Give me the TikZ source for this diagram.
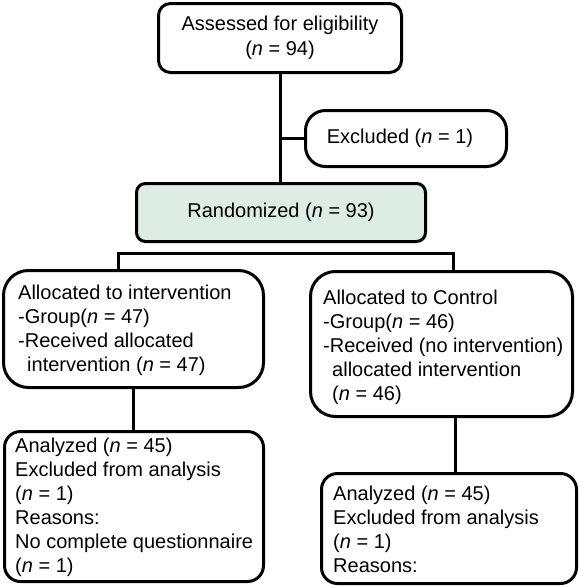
\documentclass[tikz,border=0pt]{standalone}
\usepackage{fontspec}
\setmainfont{Liberation Sans}
\definecolor{randfill}{RGB}{221,237,228}
\begin{document}
\begin{tikzpicture}[x=1pt,y=-1pt,
  every node/.style={font=\fontsize{20}{24}\selectfont},
  box/.style={draw, line width=3pt, inner sep=0pt, rounded corners=#1},
  txt/.style={inner sep=0pt, anchor=north west, align=left},
  conn/.style={line width=3pt}]
\useasboundingbox (0,0) rectangle (580,587);
% boxes
\node[box=12pt, minimum width=243pt, minimum height=69pt, align=center,
      font=\fontsize{20}{25}\selectfont] (top) at (280,38)
  {Assessed for eligibility\\(\textit{n} = 94)};
\node[box=20pt, minimum width=201pt, minimum height=56pt] (excl) at (406,138.5)
  {\hspace*{-12pt}Excluded (\textit{n} = 1)};
\node[box=9pt, fill=randfill, minimum width=289pt, minimum height=58pt] (rand) at (281,212.5)
  {Randomized (\textit{n} = 93)};
\node[box=25pt, minimum width=260pt, minimum height=117pt] (alloc1) at (133.5,329) {};
\node[box=25pt, minimum width=262pt, minimum height=145pt] (alloc2) at (441.5,344) {};
\node[box=16pt, minimum width=259pt, minimum height=150pt] (ana1) at (134,506.5) {};
\node[box=16pt, minimum width=255pt, minimum height=110pt] (ana2) at (449,528.5) {};
% texts
\node[txt] (t1) at (18,284.5)
  {Allocated to intervention\\-Group(\textit{n} = 47)\\-Received allocated\\\hspace*{9pt}intervention (\textit{n} = 47)};
\node[txt] (t2) at (323,289.5)
  {Allocated to Control\\-Group(\textit{n} = 46)\\-Received (no intervention)\\\hspace*{9pt}allocated intervention\\\hspace*{9pt}(\textit{n} = 46)};
\node[txt] (t3) at (15,437.5)
  {Analyzed (\textit{n} = 45)\\Excluded from analysis\\(\textit{n} = 1)\\Reasons:\\No complete questionnaire\\(\textit{n} = 1)};
\node[txt] (t4) at (333,485.5)
  {Analyzed (\textit{n} = 45)\\Excluded from analysis\\(\textit{n} = 1)\\Reasons:};
% connectors
\coordinate (bl) at (118,253);
\coordinate (br) at (453,253);
\coordinate (cr) at (455,450);
\draw[conn] (top.south) -- (top.south |- rand.north);
\draw[conn] (top.south |- excl.west) -- (excl.west);
\draw[conn] (alloc1.north -| bl) -- (bl) -- (br) -- (alloc2.north -| br);
\draw[conn] (alloc1.south) -- (alloc1.south |- ana1.north);
\draw[conn] (alloc2.south -| cr) -- (ana2.north -| cr);
\end{tikzpicture}
\end{document}
